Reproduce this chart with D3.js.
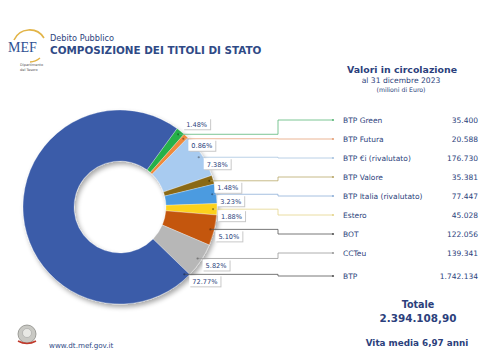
<!DOCTYPE html>
<html><head><meta charset="utf-8">
<script src="https://cdn.jsdelivr.net/npm/d3@7"></script>
<style>html,body{margin:0;padding:0;background:#fff;}svg{display:block;}</style>
</head><body>
<svg id="c" width="480" height="360"></svg>
<script>
const categories = ["BTP Green","BTP Futura","BTP €i (rivalutato)","BTP Valore","BTP Italia (rivalutato)","Estero","BOT","CCTeu","BTP"];
const values = [35400,20588,176730,35381,77447,45028,122056,139341,1742134];
const valueLabels = ["35.400","20.588","176.730","35.381","77.447","45.028","122.056","139.341","1.742.134"];
const percentLabels = ["1.48%","0.86%","7.38%","1.48%","3.23%","1.88%","5.10%","5.82%","72.77%"];
const colors = ["#27b14a","#ef8a3a","#a8cbf0","#8a6914","#4b9be0","#fcd21c","#c4570f","#b7b7b7","#3a5ca9"];
const lineColors = ["#5cb87a","#e6a27a","#a8c4e0","#b9a86a","#8fb0d8","#e4d48a","#555555","#9a9a9a","#555555"];

const svg = d3.select("#c");
const navy = "#2c3f7c";
const font = "DejaVu Sans, Verdana, sans-serif";

const defs = svg.append("defs");
const f = defs.append("filter").attr("id","sh").attr("x","-20%").attr("y","-20%").attr("width","150%").attr("height","150%");
f.append("feGaussianBlur").attr("in","SourceAlpha").attr("stdDeviation",2.5).attr("result","b");
f.append("feOffset").attr("in","b").attr("dx",2).attr("dy",3).attr("result","o");
f.append("feComponentTransfer").attr("in","o").attr("result","o2").append("feFuncA").attr("type","linear").attr("slope",0.35);
const m = f.append("feMerge"); m.append("feMergeNode").attr("in","o2"); m.append("feMergeNode").attr("in","SourceGraphic");

// Header
const logo = svg.append("g");
logo.append("path").attr("d","M14,40 A17,17 0 0 1 44,38").attr("fill","none").attr("stroke","#e2b447").attr("stroke-width",1.6);
logo.append("path").attr("d","M40,58 A17,17 0 0 1 30,62").attr("fill","none").attr("stroke","#e2b447").attr("stroke-width",1.4);
logo.append("text").attr("x",8).attr("y",52).attr("font-family","Liberation Serif, serif").attr("font-size",14).attr("fill","#2e4f93").text("MEF");
logo.append("text").attr("x",20).attr("y",66).attr("font-family",font).attr("font-size",3.5).attr("fill","#555").text("Dipartimento");
logo.append("text").attr("x",20).attr("y",71).attr("font-family",font).attr("font-size",3.5).attr("fill","#555").text("del Tesoro");
svg.append("text").attr("x",50).attr("y",41).attr("font-family",font).attr("font-size",8.2).attr("fill",navy).text("Debito Pubblico");
svg.append("text").attr("x",50).attr("y",54).attr("font-family",font).attr("font-size",10.4).attr("font-weight","bold").attr("fill","#2f4a86").text("COMPOSIZIONE DEI TITOLI DI STATO");

svg.append("text").attr("x",402).attr("y",73).attr("text-anchor","middle").attr("font-family",font).attr("font-size",9.4).attr("font-weight","bold").attr("fill",navy).text("Valori in circolazione");
svg.append("text").attr("x",401).attr("y",83).attr("text-anchor","middle").attr("font-family",font).attr("font-size",7.6).attr("fill",navy).text("al 31 dicembre 2023");
svg.append("text").attr("x",401).attr("y",92).attr("text-anchor","middle").attr("font-family",font).attr("font-size",6.2).attr("fill",navy).text("(milioni di Euro)");

// Donut
const cx = 120, cy = 207, R = 97, r = 46;
const start = 36*Math.PI/180;
const pie = d3.pie().sort(null).value(d => d).startAngle(start).endAngle(start + 2*Math.PI);
const arcs = pie(values);
const arc = d3.arc().innerRadius(r).outerRadius(R);
const g = svg.append("g").attr("transform",`translate(${cx},${cy})`);
g.append("g").attr("filter","url(#sh)").selectAll("path").data(arcs).join("path")
  .attr("d",arc).attr("fill",(d,i)=>colors[i]).attr("stroke","#fff").attr("stroke-width",0.3);

// Anchors: middle of each slice, or near its start for the very large slice
const anchors = arcs.map(a => {
  const span = a.endAngle - a.startAngle;
  const ang = span > Math.PI ? a.startAngle + 0.04 : a.startAngle + span/2;
  const rr = R*0.96;
  return [cx + rr*Math.sin(ang), cy - rr*Math.cos(ang)];
});

// Legend rows
const rowY = d3.scaleLinear().domain([0,7]).range([120,253]);
const legY = categories.map((c,i)=> i<8 ? rowY(i) : rowY(7)+23);
const elbowX = 278, endX = 333;

const lines = svg.append("g");
anchors.forEach((p,i)=>{
  lines.append("path").attr("d",`M${p[0]},${p[1]}H${elbowX}V${legY[i]}H${endX}`)
    .attr("fill","none").attr("stroke",lineColors[i]).attr("stroke-width",0.8);
  lines.append("circle").attr("cx",endX).attr("cy",legY[i]).attr("r",1.1).attr("fill",lineColors[i]);
  lines.append("circle").attr("cx",p[0]).attr("cy",p[1]).attr("r",1.1).attr("fill",d3.color(colors[i]).darker(1.2));
});

// Percent labels
const lab = svg.append("g");
anchors.forEach((p,i)=>{
  let ly = p[1] + 7;
  if (i===0 && Math.abs((anchors[1][1]+7) - ly) < 12) ly = p[1] - 10;
  const lx = p[0] + 5;
  const gg = lab.append("g");
  const t = gg.append("text").attr("x",lx+3).attr("y",ly+2.5).attr("font-family",font).attr("font-size",6.6)
    .attr("fill",navy).text(percentLabels[i]);
  const w = t.node().getComputedTextLength() + 6;
  gg.insert("rect","text").attr("x",lx+1).attr("y",ly-5).attr("width",w).attr("height",11).attr("fill","#c8c8c8");
  gg.insert("rect","text").attr("x",lx).attr("y",ly-6).attr("width",w).attr("height",11).attr("fill","#fff");
});

// Legend text
const leg = svg.append("g").attr("font-family",font).attr("fill",navy);
categories.forEach((c,i)=>{
  leg.append("text").attr("x",343).attr("y",legY[i]+3).attr("font-size",7.5).text(c);
  leg.append("text").attr("x",478).attr("y",legY[i]+3).attr("font-size",7.5).attr("text-anchor","end").text(valueLabels[i]);
});

// Totals
svg.append("text").attr("x",418).attr("y",308).attr("text-anchor","middle").attr("font-family",font).attr("font-size",9.6).attr("font-weight","bold").attr("fill",navy).text("Totale");
svg.append("text").attr("x",418).attr("y",322).attr("text-anchor","middle").attr("font-family",font).attr("font-size",10.4).attr("font-weight","bold").attr("fill",navy).text("2.394.108,90");
svg.append("text").attr("x",417).attr("y",346).attr("text-anchor","middle").attr("font-family",font).attr("font-size",8.8).attr("font-weight","bold").attr("fill",navy).text("Vita media 6,97 anni");

// Footer
const em = svg.append("g");
em.append("circle").attr("cx",27).attr("cy",334).attr("r",9).attr("fill","#c9c9c4").attr("stroke","#8c8c86").attr("stroke-width",0.8);
em.append("circle").attr("cx",27).attr("cy",333).attr("r",4.5).attr("fill","#e8e8e4").attr("stroke","#999").attr("stroke-width",0.5);
em.append("path").attr("d","M18,341 Q27,346 36,341").attr("fill","none").attr("stroke","#c0392b").attr("stroke-width",1.5);
svg.append("text").attr("x",49).attr("y",348).attr("font-family",font).attr("font-size",7.2).attr("fill","#2f4a86").text("www.dt.mef.gov.it");
</script>
</body></html>
